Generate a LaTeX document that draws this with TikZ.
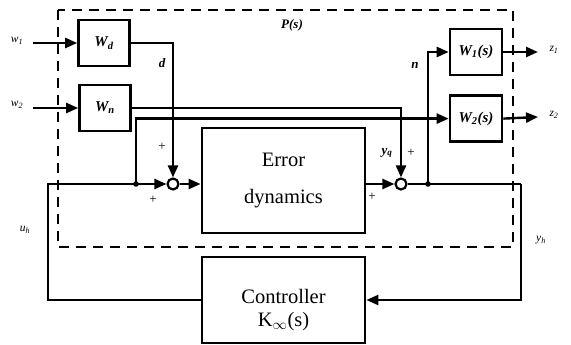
\documentclass[tikz,border=0pt]{standalone}
\usepackage{fontspec}
\setmainfont{Liberation Serif}
\usetikzlibrary{arrows.meta, positioning}

\begin{document}
\begin{tikzpicture}[
    x=1pt, y=-1pt,
    box/.style={rectangle, draw=black, line width=2.8pt, align=center, font=\fontsize{20.5}{38}\selectfont},
    boxtext/.style={align=center, inner sep=0pt, font=\fontsize{20.5}{23}\selectfont},
    wbox/.style={rectangle, draw=black, line width=2.6pt, minimum width=51pt, minimum height=46pt, inner sep=0pt, font=\fontsize{15}{15}\selectfont\bfseries\itshape},
    sumnode/.style={circle, draw=black, line width=2.2pt, minimum size=11pt, inner sep=0pt},
    line/.style={draw, line width=2.4pt, -{Triangle[length=12pt, width=10pt]}},
    wire/.style={draw, line width=2.4pt},
    sig/.style={font=\fontsize{13}{13}\selectfont\bfseries\itshape, inner sep=0pt},
    io/.style={font=\fontsize{11.5}{11.5}\selectfont\itshape, inner sep=0pt},
    pm/.style={font=\fontsize{13}{13}\selectfont, inner sep=0pt},
    pframe/.style={draw, line width=2.8pt, dash pattern=on 10pt off 7pt}
]
\useasboundingbox (0,0) rectangle (571,345);

% Boundary of P(s)
\draw[pframe] (58,10) rectangle (513,247);
\node[sig] (plbl) at (292,25) {P(s)};

% Blocks
\node[wbox] (wd) at (104,43) {W\textsubscript{d}};
\node[wbox] (wn) at (105,108) {W\textsubscript{n}};
\node[wbox, minimum width=52pt] (wone) at (476,52) {W\textsubscript{1}(s)};
\node[wbox, minimum width=52pt, below=18pt of wone] (wtwo) {W\textsubscript{2}(s)};
\node[box, minimum width=163pt, minimum height=105pt] (err) at (283.5,180.5) {Error\\dynamics};
\node[box, minimum width=163pt, minimum height=86pt,
      label={[boxtext, yshift=-10pt]center:Controller\\K\textsubscript{$\infty$}(s)}] (ctrl) at (283.5,300) {};

% Summing junctions
\node[sumnode] (s1) at (173,184) {};
\node[sumnode] (s2) at (401,184) {};

% Branch points and free ends
\coordinate (jl) at (136,184);
\coordinate (jr) at (428,184);
\coordinate (uh) at (48,184);
\coordinate (yh) at (521,184);
\coordinate (in1) at (33,43);
\coordinate (in2) at (33,108);
\coordinate (out1) at (538,52);
\coordinate (out2) at (538,117);

% Signal labels
\node[io] (w1) at (17,41) {w\textsubscript{1}};
\node[io] (w2) at (17,105) {w\textsubscript{2}};
\node[io] (z1) at (554,50) {z\textsubscript{1}};
\node[io] (z2) at (554,115) {z\textsubscript{2}};
\node[io] (uhl) at (25,230) {u\textsubscript{h}};
\node[io] (yhl) at (541,240) {y\textsubscript{h}};
\node[sig] (d) at (162,63) {d};
\node[sig] (n) at (415,65) {n};
\node[sig] (yq) at (387,153) {y\textsubscript{q}};
\node[pm] at (162,147) {+};
\node[pm] at (153,200) {+};
\node[pm] at (411,153) {+};
\node[pm] at (372,197) {+};

% Connections
\draw[line] (in1) -- (wd.west);
\draw[line] (in2) -- (wn.west);
\draw[line] (wd.east) -| (s1.north);
\draw[line] (wn.east) -| (s2.north);
\draw[line] (jl) |- (wtwo.west);
\draw[line] (jr) |- (wone.west);
\draw[line] (s1.east) -- (s1.east -| err.west);
\draw[line] (s2.west -| err.east) -- (s2.west);
\draw[wire] (s2.east) -- (jr) -- (yh);
\draw[line] (yh) |- (ctrl.east);
\draw[line] (ctrl.west) -| (uh) -- (s1.west);
\draw[line] (wone.east) -- (out1);
\draw[line] (wtwo.east) -- (out2);
\fill (jl) circle (2.8pt);
\fill (jr) circle (2.8pt);

\end{tikzpicture}
\end{document}
